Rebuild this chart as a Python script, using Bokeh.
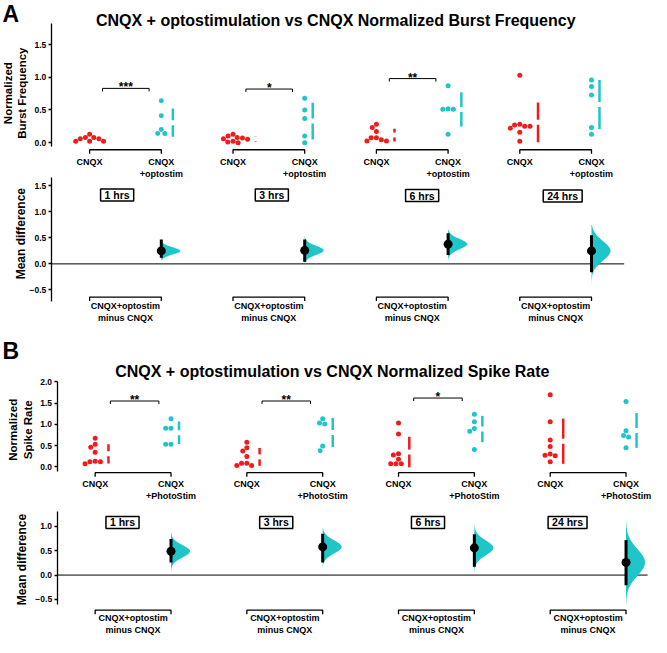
import numpy as np
from bokeh.plotting import figure
from bokeh.models import Label, FixedTicker, Range1d, LinearAxis, CustomJSTickFormatter
from bokeh.core.properties import value
from bokeh.embed import file_html
from bokeh.resources import INLINE

# ------------------------------------------------------------------ data
hours = ["1 hrs", "3 hrs", "6 hrs", "24 hrs"]
ctrl_label = "CNQX"
burst_test_label = "CNQX\n+optostim"
spike_test_label = "CNQX\n+PhotoStim"
diff_label = "CNQX+optostim\nminus CNQX"
title_a = "CNQX + optostimulation vs CNQX Normalized Burst Frequency"
title_b = "CNQX + optostimulation vs CNQX Normalized Spike Rate"
ylabel_a = "Normalized\nBurst Frequency"
ylabel_b = "Normalized\nSpike Rate"
ylabel_diff = "Mean difference"

# Panel A: normalized burst frequency (one list per time point)
burst_cnqx = [
    [0.08, 0.06, 0.13, 0.08, 0.02, 0.02, 0.02, 0.06],
    [0.05, 0.08, 0.13, 0.10, 0.02, 0.00, 0.01, 0.07, 0.06],
    [0.23, 0.28, 0.17, 0.075, 0.025, 0.025, 0.045, 0.075],
    [1.03, 0.28, 0.25, 0.25, 0.27, 0.22, 0.16, 0.02],
]
burst_opto = [
    [0.64, 0.41, 0.20, 0.14, 0.14],
    [0.68, 0.50, 0.37, 0.10, 0.00],
    [0.87, 0.51, 0.51, 0.52, 0.13],
    [0.96, 0.86, 0.73, 0.23, 0.13],
]
burst_sig = ["***", "*", "**", ""]
burst_sig_y = [0.83, 0.82, 0.98, None]
burst_diff = [0.25, 0.26, 0.38, 0.25]
burst_ci_lo = [0.12, 0.04, 0.17, -0.16]
burst_ci_hi = [0.47, 0.47, 0.59, 0.55]
burst_boot_lo = [0.07, -0.02, 0.00, -0.47]
burst_boot_hi = [0.52, 0.55, 0.65, 0.75]

# Panel B: normalized spike rate
spike_cnqx = [
    [0.67, 0.53, 0.46, 0.34, 0.12, 0.07, 0.12, 0.13],
    [0.58, 0.45, 0.37, 0.24, 0.085, 0.03, 0.03, 0.085],
    [1.03, 0.77, 0.31, 0.28, 0.18, 0.07, 0.07, 0.07],
    [1.70, 1.06, 0.63, 0.48, 0.30, 0.27, 0.26, 0.12],
]
spike_opto = [
    [1.13, 0.91, 0.91, 0.53, 0.53],
    [1.13, 1.03, 1.01, 0.49, 0.38],
    [1.24, 1.06, 0.90, 0.84, 0.41],
    [1.54, 0.85, 0.74, 0.70, 0.45],
]
spike_sig = ["**", "**", "*", ""]
spike_sig_y = [1.55, 1.55, 1.62, None]
spike_diff = [0.49, 0.58, 0.56, 0.26]
spike_ci_lo = [0.26, 0.26, 0.17, -0.21]
spike_ci_hi = [0.74, 0.85, 0.84, 0.72]
spike_boot_lo = [0.05, 0.10, 0.05, -0.66]
spike_boot_hi = [0.88, 0.98, 1.05, 1.12]

# ------------------------------------------------------------------ style / layout
FONT = "Liberation Sans"
RED = "#f21b1b"
CYAN = "#1fc5c9"
DOT = 5
REF_W, REF_H = 667, 653          # layout designed in reference pixel space
PW, PH = 651, 637                # figure size (fits window with 8px margins)
SX, SY = PW / REF_W, PH / REF_H  # screen px per layout px

p = figure(width=PW, height=PH, x_range=Range1d(0, REF_W), y_range=Range1d(REF_H, 0),
           min_border=0, x_axis_location=None, y_axis_location=None,
           output_backend="svg", toolbar_location=None)
p.xgrid.visible = False
p.ygrid.visible = False
p.outline_line_color = None

# panel geometry in layout px: x origin / px per unit, y zero / px per unit
panels = {
    "A": dict(x0=91.3, xpu=73.46, axis_x=52, right=639),
    "B": dict(x0=97.0, xpu=77.7, axis_x=58, right=663),
}
rows = {
    "A1": dict(col="A", y0=145.7, ypu=67.0),
    "A2": dict(col="A", y0=270.0, ypu=53.3),
    "B1": dict(col="B", y0=478.0, ypu=43.5),
    "B2": dict(col="B", y0=589.0, ypu=49.8),
}
p.extra_x_ranges = {k: Range1d(-g["x0"] / g["xpu"], (REF_W - g["x0"]) / g["xpu"])
                    for k, g in panels.items()}
p.extra_y_ranges = {k: Range1d((r["y0"] - REF_H) / r["ypu"], r["y0"] / r["ypu"])
                    for k, r in rows.items()}


def dx(col, rx):
    g = panels[col]
    return (rx - g["x0"]) / g["xpu"]


def dy(row, ry):
    r = rows[row]
    return (r["y0"] - ry) / r["ypu"]


def xppu(col):
    return panels[col]["xpu"] * SX


def yppu(row):
    return rows[row]["ypu"] * SY


def add_yaxis(row, ticks, bounds):
    col = rows[row]["col"]
    ax = LinearAxis(x_range_name=col, y_range_name=row, fixed_location=dx(col, panels[col]["axis_x"]))
    ax.ticker = FixedTicker(ticks=ticks)
    ax.bounds = bounds
    ax.formatter = CustomJSTickFormatter(code="return tick.toFixed(1).replace('-', '\u2212');")
    ax.major_label_text_font = FONT
    ax.major_label_text_font_style = "bold"
    ax.major_label_text_font_size = "8.5px"
    ax.major_label_text_color = "black"
    ax.major_tick_out = 3
    ax.major_tick_in = 0
    ax.minor_tick_out = 0
    ax.minor_tick_in = 0
    ax.axis_line_width = 1.3
    ax.major_tick_line_width = 1.3
    ax.major_label_standoff = 2
    p.add_layout(ax, "left")


def add_xaxis(row, ry, ticks, labels, standoff):
    col = rows[row]["col"]
    ax = LinearAxis(x_range_name=col, y_range_name=row, fixed_location=dy(row, ry))
    ax.ticker = FixedTicker(ticks=ticks)
    ax.major_label_overrides = {t: l for t, l in zip(ticks, labels)}
    ax.axis_line_color = None
    ax.major_tick_line_color = None
    ax.minor_tick_line_color = None
    ax.major_tick_out = 0
    ax.major_tick_in = 0
    ax.minor_tick_out = 0
    ax.minor_tick_in = 0
    ax.major_label_standoff = standoff
    ax.major_label_text_font = FONT
    ax.major_label_text_font_style = "bold"
    ax.major_label_text_font_size = "9px"
    ax.major_label_text_color = "black"
    p.add_layout(ax, "below")


def label(rx, ry, text, size, align="center", baseline="middle", angle=0.0, box=False):
    kw = {}
    if box:
        kw = dict(border_line_color="black", border_line_width=1.5,
                  background_fill_color="white",
                  padding=dict(left=4, right=4, top=0, bottom=0))
    p.add_layout(Label(x=rx, y=ry, text=text, text_font=FONT, text_font_size=size,
                       text_font_style="bold", text_align=align, text_baseline=baseline,
                       angle=angle, text_color="black", **kw))


def swarm_offsets(ypx, d):
    n = len(ypx)
    order = np.argsort(-ypx)
    xs = np.full(n, np.nan)
    for i in order:
        cands = [0.0]
        for j in range(n):
            if np.isnan(xs[j]):
                continue
            ddy = ypx[i] - ypx[j]
            if abs(ddy) < d:
                ddx = np.sqrt(d * d - ddy * ddy)
                cands += [xs[j] + ddx, xs[j] - ddx]
        cands.sort(key=lambda c: (abs(c), c))
        for c in cands:
            ok = True
            for j in range(n):
                if not np.isnan(xs[j]) and (c - xs[j]) ** 2 + (ypx[i] - ypx[j]) ** 2 < d * d - 1e-6:
                    ok = False
                    break
            if ok:
                xs[i] = c
                break
    return xs


def draw_group(row, gx, vals, color):
    col = rows[row]["col"]
    kx, ky = xppu(col), yppu(row)
    rn = dict(x_range_name=col, y_range_name=row)
    v = np.asarray(vals, float)
    offs = swarm_offsets(v * ky, DOT + 0.3)
    p.scatter(gx + offs / kx, v, size=DOT, fill_color=color, line_color=None, **rn)
    m, s = v.mean(), v.std(ddof=1)
    lx = gx + (offs.max() + 8) / kx
    gap = 2.5 / ky
    p.segment(x0=[lx, lx], y0=[m - s, m + gap], x1=[lx, lx], y1=[m - gap, m + s],
              line_color=color, line_width=2.5, **rn)


def bracket(row, xa, xb, y, tick=3.5, lw=1.1):
    col = rows[row]["col"]
    t = tick / yppu(row)
    p.line([xa, xa, xb, xb], [y - t, y, y, y - t], line_color="black", line_width=lw,
           x_range_name=col, y_range_name=row)


def sig(row, xa, xb, y, text):
    col = rows[row]["col"]
    bracket(row, xa, xb, y, tick=3, lw=1)
    p.text(x=[(xa + xb) / 2], y=[y + 1.0 / yppu(row)], text=[text], text_align="center",
           text_baseline="alphabetic", text_font=value(FONT), text_font_style="bold",
           text_font_size="12px", text_color="black", x_range_name=col, y_range_name=row)


def draw_diff(row, gx, d, lo, hi, blo, bhi):
    col = rows[row]["col"]
    rn = dict(x_range_name=col, y_range_name=row)
    ys = np.linspace(blo, bhi, 140)
    sd = (bhi - blo) / 6.5
    w = 19 / xppu(col)
    xs = gx + w * np.exp(-0.5 * ((ys - d) / sd) ** 2)
    p.patch(np.r_[gx, xs, gx], np.r_[blo, ys, bhi], fill_color=CYAN, line_color=None, **rn)
    p.segment(x0=[gx], y0=[lo], x1=[gx], y1=[hi], line_color="black", line_width=3, **rn)
    p.scatter([gx], [d], size=9, fill_color="black", line_color=None, **rn)


def swarm_row(row, cnqx, opto, sigs, sig_y, test_label, yticks, ybounds, spine_ry,
              xlab_ry, sig_span):
    add_yaxis(row, yticks, ybounds)
    ticks, labs = [], []
    spine_y = dy(row, spine_ry)
    for g in range(len(cnqx)):
        gx = 2 * g
        draw_group(row, gx, cnqx[g], RED)
        draw_group(row, gx + 1, opto[g], CYAN)
        bracket(row, gx, gx + 1, spine_y, tick=4, lw=1.3)
        if sigs[g]:
            sig(row, gx + sig_span[0], gx + sig_span[1], sig_y[g], sigs[g])
        ticks += [gx, gx + 1]
        labs += [ctrl_label, test_label]
    add_xaxis(row, xlab_ry, ticks, labs, 0)


def diff_row(row, diff, lo, hi, blo, bhi, yticks, ybounds, spine_ry, xlab_ry, hour_pos):
    col = rows[row]["col"]
    add_yaxis(row, yticks, ybounds)
    rn = dict(x_range_name=col, y_range_name=row)
    p.segment(x0=[dx(col, panels[col]["axis_x"])], y0=[0], x1=[dx(col, panels[col]["right"])],
              y1=[0], line_color="black", line_width=1, **rn)
    spine_y = dy(row, spine_ry)
    ticks, labs = [], []
    for g in range(len(diff)):
        gx = 2 * g
        draw_diff(row, gx + 1, diff[g], lo[g], hi[g], blo[g], bhi[g])
        bracket(row, gx, gx + 1, spine_y, tick=4, lw=1.3)
        ticks.append(gx + 0.5)
        labs.append(diff_label)
        label(hour_pos[g][0], hour_pos[g][1], hours[g], "10.5px", box=True)
    add_xaxis(row, xlab_ry, ticks, labs, 0)


# ---- panel A
label(2, 1, "A", "23px", align="left", baseline="top")
label(343.5, 20, title_a, "16px")
label(15, 95, ylabel_a, "11.5px", angle=np.pi / 2)
swarm_row("A1", burst_cnqx, burst_opto, burst_sig, burst_sig_y, burst_test_label,
          [0, 0.5, 1.0, 1.5], (-0.065, 1.82), 153, 160, (0.18, 0.83))
label(21, 239, ylabel_diff, "12px", angle=np.pi / 2)
diff_row("A2", burst_diff, burst_ci_lo, burst_ci_hi, burst_boot_lo, burst_boot_hi,
         [-0.5, 0, 0.5, 1.0, 1.5], (-0.72, 1.66), 304, 308.5,
         [(119.5, 199.5), (278, 199.5), (432, 200), (576, 200.5)])

# ---- panel B
label(2, 346, "B", "23px", align="left", baseline="top")
label(340, 380, title_b, "16px")
label(20.5, 440, ylabel_b, "11.5px", angle=np.pi / 2)
swarm_row("B1", spike_cnqx, spike_opto, spike_sig, spike_sig_y, spike_test_label,
          [0, 0.5, 1.0, 1.5, 2.0], (-0.12, 2.02), 484, 491, (0.2, 0.84))
label(22, 573, ylabel_diff, "12px", angle=np.pi / 2)
diff_row("B2", spike_diff, spike_ci_lo, spike_ci_hi, spike_boot_lo, spike_boot_hi,
         [-0.5, 0, 0.5, 1.0], (-0.61, 1.30), 625, 627.5,
         [(125, 535), (282.5, 535), (438, 535), (581, 535)])

open("out.html", "w").write(file_html(p, INLINE))
